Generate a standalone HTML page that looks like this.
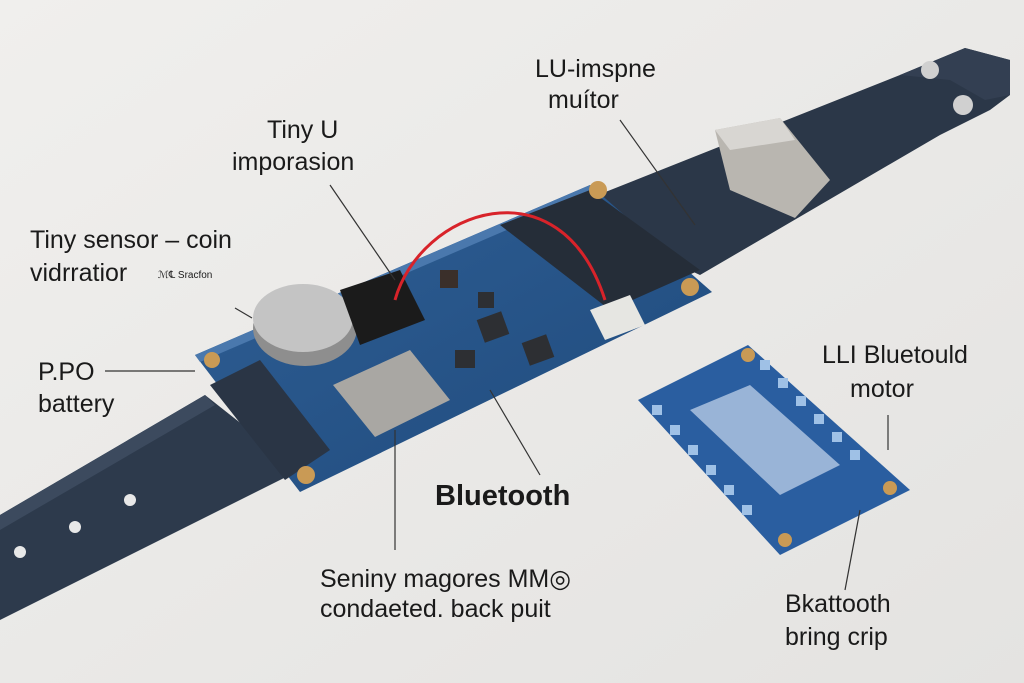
<!DOCTYPE html>
<html><head><meta charset="utf-8"><style>
html,body{margin:0;padding:0;background:#ecebe9}
svg{display:block}
text{font-family:"Liberation Sans",sans-serif;fill:#1a1a1a}
</style></head><body>
<svg width="1024" height="683" viewBox="0 0 1024 683" xmlns="http://www.w3.org/2000/svg">
<defs>
<linearGradient id="bg" x1="0" y1="0" x2="1" y2="1"><stop offset="0" stop-color="#f0efed"/><stop offset="1" stop-color="#e4e3e1"/></linearGradient>
<linearGradient id="pcb" x1="0" y1="0" x2="1" y2="1"><stop offset="0" stop-color="#2f5f95"/><stop offset="1" stop-color="#1f4a7c"/></linearGradient>
</defs>
<rect width="1024" height="683" fill="url(#bg)"/>
<!-- strap left -->
<polygon points="0,515 205,395 300,470 0,620" fill="#2d3a4c"/>
<polygon points="0,515 205,395 215,405 0,530" fill="#3c4a5e"/>
<circle cx="20" cy="552" r="6" fill="#e8e8e8"/><circle cx="75" cy="527" r="6" fill="#e8e8e8"/><circle cx="130" cy="500" r="6" fill="#e8e8e8"/>
<!-- strap right -->
<polygon points="560,210 900,75 965,48 1010,60 1010,95 990,110 940,135 700,275" fill="#2b3748"/>
<polygon points="900,75 965,48 1010,60 1010,95 985,100 950,80" fill="#333f52"/>
<circle cx="930" cy="70" r="9" fill="#d0d0d0"/><circle cx="963" cy="105" r="10" fill="#d0d0d0"/>
<!-- metal clip -->
<polygon points="715,130 780,118 830,180 795,218 730,190" fill="#b9b6b0"/>
<polygon points="715,130 780,118 795,140 730,150" fill="#d8d6d2"/>
<!-- main pcb -->
<polygon points="195,355 590,185 712,292 300,492" fill="url(#pcb)"/>
<polygon points="195,355 590,185 595,192 200,362" fill="#4a78ad"/>
<polygon points="500,225 590,190 700,270 610,310" fill="#252d38"/>
<polygon points="210,385 260,360 330,450 285,480" fill="#2a3545"/>
<circle cx="598" cy="190" r="9" fill="#c99a55"/><circle cx="690" cy="287" r="9" fill="#c99a55"/><circle cx="306" cy="475" r="9" fill="#c99a55"/><circle cx="212" cy="360" r="8" fill="#c99a55"/>
<ellipse cx="305" cy="328" rx="52" ry="38" fill="#8e8e8e"/>
<ellipse cx="303" cy="318" rx="50" ry="34" fill="#c4c4c4"/>
<polygon points="340,290 400,270 425,320 360,345" fill="#1b1b1b"/>
<polygon points="333,385 410,350 450,400 375,437" fill="#a9a7a3"/>
<rect x="480" y="315" width="26" height="24" fill="#2d2f33" transform="rotate(-20 493 327)"/>
<rect x="525" y="338" width="26" height="24" fill="#2d2f33" transform="rotate(-20 538 350)"/>
<rect x="455" y="350" width="20" height="18" fill="#2d2f33"/>
<rect x="440" y="270" width="18" height="18" fill="#3a2f2a"/>
<rect x="478" y="292" width="16" height="16" fill="#2d2f33"/>
<polygon points="590,310 630,295 645,325 605,340" fill="#e6e6e2"/>
<path d="M395,300 C420,210 560,160 605,300" fill="none" stroke="#d8232a" stroke-width="3"/>
<!-- small pcb -->
<polygon points="638,400 748,345 910,490 780,555" fill="#2a5ea0"/>
<g fill="#9fc1e6">
<rect x="652" y="405" width="10" height="10"/><rect x="670" y="425" width="10" height="10"/><rect x="688" y="445" width="10" height="10"/><rect x="706" y="465" width="10" height="10"/><rect x="724" y="485" width="10" height="10"/><rect x="742" y="505" width="10" height="10"/>
<rect x="760" y="360" width="10" height="10"/><rect x="778" y="378" width="10" height="10"/><rect x="796" y="396" width="10" height="10"/><rect x="814" y="414" width="10" height="10"/><rect x="832" y="432" width="10" height="10"/><rect x="850" y="450" width="10" height="10"/>
</g>
<g fill="#c9d9ee" opacity="0.7"><polygon points="690,410 750,385 840,465 780,495"/></g>
<circle cx="748" cy="355" r="7" fill="#c99a55"/><circle cx="890" cy="488" r="7" fill="#c99a55"/><circle cx="785" cy="540" r="7" fill="#c99a55"/>
<g stroke="#333" stroke-width="1.2" fill="none">
<line x1="620" y1="120" x2="695" y2="225"/>
<line x1="330" y1="185" x2="395" y2="280"/>
<line x1="235" y1="308" x2="252" y2="318"/>
<line x1="105" y1="371" x2="195" y2="371"/>
<line x1="490" y1="390" x2="540" y2="475"/>
<line x1="395" y1="430" x2="395" y2="550"/>
<line x1="888" y1="415" x2="888" y2="450"/>
<line x1="860" y1="510" x2="845" y2="590"/>
</g>
<text x="535" y="77" font-size="25">LU-imspne</text>
<text x="548" y="108" font-size="25">muítor</text>
<text x="267" y="138" font-size="25">Tiny U</text>
<text x="232" y="170" font-size="25">imporasion</text>
<text x="30" y="248" font-size="25">Tiny sensor – coin</text>
<text x="30" y="281" font-size="25">vidrratior</text>
<text x="158" y="278" font-size="10">ℳ℄ Sracfon</text>
<text x="38" y="380" font-size="25">P.PO</text>
<text x="38" y="412" font-size="25">battery</text>
<text x="435" y="505" font-size="29" font-weight="bold">Bluetooth</text>
<text x="320" y="587" font-size="25">Seniny magores MM◎</text>
<text x="320" y="617" font-size="25">condaeted. back puit</text>
<text x="822" y="363" font-size="25">LLI Bluetould</text>
<text x="850" y="397" font-size="25">motor</text>
<text x="785" y="612" font-size="25">Bkattooth</text>
<text x="785" y="645" font-size="25">bring crip</text>
</svg>
</body></html>
